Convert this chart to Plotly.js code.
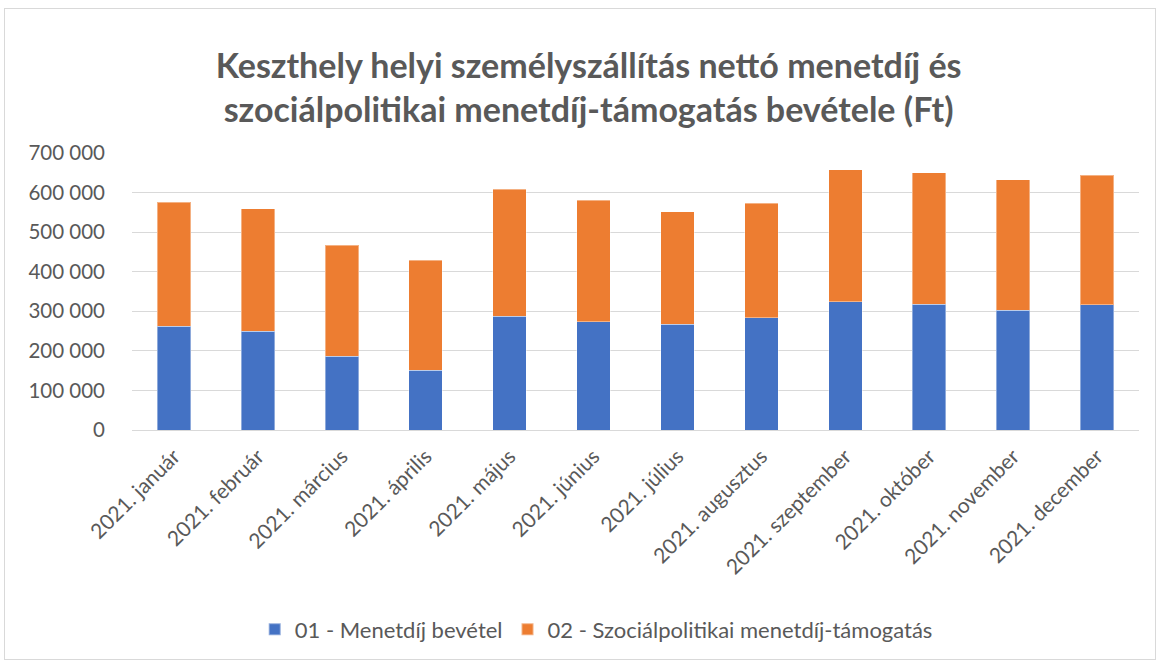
<!DOCTYPE html>
<html>
<head>
<meta charset="utf-8">
<script src="https://cdn.plot.ly/plotly-3.0.1.min.js"></script>
<style>
html,body{margin:0;padding:0;background:#fff;}
#frame{position:absolute;left:4px;top:8px;width:1152px;height:652px;border:1px solid #d9d9d9;box-sizing:border-box;}
#chart{position:absolute;left:0;top:0;width:1161px;height:662px;}
</style>
</head>
<body>
<div id="frame"></div>
<div id="chart"></div>
<script>
var categories = ["2021. január","2021. február","2021. március","2021. április","2021. május","2021. június","2021. július","2021. augusztus","2021. szeptember","2021. október","2021. november","2021. december"];
var menetdij = [262000,250000,187000,151000,288000,274000,267000,284000,324000,318000,303000,316000];
var szocpol = [313000,309000,280000,278000,320000,307000,284000,289000,334000,332000,329000,328000];
var seriesNames = ["01 - Menetdíj bevétel","02 - Szociálpolitikai menetdíj-támogatás"];
var titleText = "Keszthely helyi személyszállítás nettó menetdíj és<br>szociálpolitikai menetdíj-támogatás bevétele (Ft)";

var font = "Lato, 'Open Sans', sans-serif";
var traces = [
  {type:"bar", name:seriesNames[0], x:categories, y:menetdij, marker:{color:"#4472C4", line:{color:"rgba(255,255,255,0.4)", width:1}}},
  {type:"bar", name:seriesNames[1], x:categories, y:szocpol, marker:{color:"#ED7D31", line:{color:"rgba(255,255,255,0.4)", width:1}}}
];
var layout = {
  width:1161, height:662,
  barmode:"stack", bargap:0.6,
  separators:", ",
  paper_bgcolor:"rgba(0,0,0,0)", plot_bgcolor:"rgba(0,0,0,0)",
  margin:{l:132, r:22, t:153, b:232},
  font:{family:font, color:"#595959", size:20},
  title:{text:titleText, x:0.507, xanchor:"center", y:0.882, yanchor:"middle", yref:"container",
         font:{family:font, size:34, color:"#595959", weight:"bold"}},
  xaxis:{type:"category", tickangle:-45, showgrid:false, showline:true, linecolor:"#d9d9d9", linewidth:1,
         ticks:"", ticklabelstandoff:5, tickfont:{size:21, color:"#595959"}},
  yaxis:{range:[0,700000], dtick:100000, tickformat:",d", showgrid:true, gridcolor:"#d9d9d9", gridwidth:1,
         zeroline:true, zerolinecolor:"#d9d9d9", showline:false, ticks:"", ticklen:0, ticklabelstandoff:26,
         tickfont:{size:20.5, color:"#595959"}, automargin:false},
  showlegend:true,
  legend:{orientation:"h", x:0.461, xanchor:"center", y:-0.72, yanchor:"middle", traceorder:"normal",
          font:{size:22, color:"#595959"}, itemwidth:30, itemsizing:"constant"}
};
Plotly.newPlot("chart", traces, layout, {displayModeBar:false, staticPlot:true});
</script>
</body>
</html>
